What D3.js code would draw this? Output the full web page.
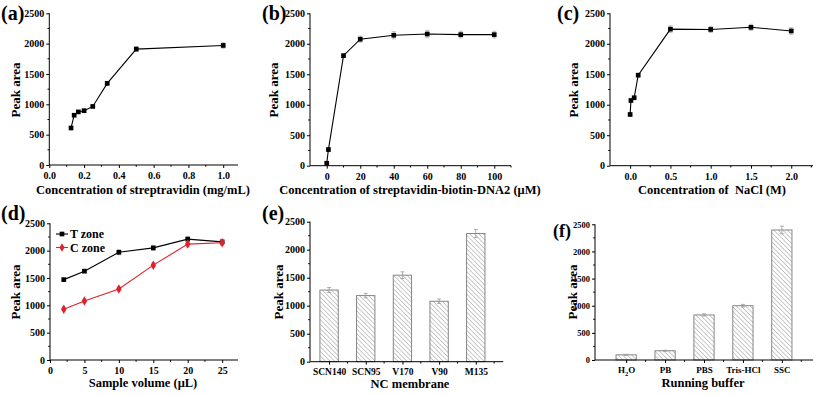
<!DOCTYPE html>
<html><head><meta charset="utf-8">
<script src="https://cdn.jsdelivr.net/npm/d3@7"></script>
<style>
body{margin:0;background:#fff;}
text{font-family:"Liberation Serif","Times New Roman",serif;font-weight:bold;fill:#000;}
</style></head>
<body><svg id="c" width="817" height="395"></svg>
<script>
// ---------- data ----------
const yTicks = [0, 500, 1000, 1500, 2000, 2500];

const aX = [0.125, 0.143, 0.167, 0.2, 0.25, 0.333, 0.5, 1.0];
const aY = [610, 820, 875, 895, 965, 1345, 1910, 1970];
const aErr = [20, 20, 20, 20, 20, 30, 40, 45];
const aTicks = [0.0, 0.2, 0.4, 0.6, 0.8, 1.0];

const bX = [0, 1, 10, 20, 40, 60, 80, 100];
const bY = [40, 265, 1805, 2075, 2140, 2160, 2150, 2150];
const bErr = [20, 20, 30, 50, 60, 60, 55, 55];
const bTicks = [0, 20, 40, 60, 80, 100];

const cX = [0, 0.01, 0.05, 0.1, 0.5, 1.0, 1.5, 2.0];
const cY = [840, 1070, 1115, 1485, 2240, 2235, 2270, 2210];
const cErr = [20, 20, 20, 25, 55, 50, 50, 55];
const cTicks = [0.0, 0.5, 1.0, 1.5, 2.0];

const dX = [2, 5, 10, 15, 20, 25];
const dT = [1470, 1625, 1970, 2050, 2210, 2160];
const dTErr = [25, 30, 45, 45, 50, 45];
const dC = [930, 1080, 1300, 1735, 2120, 2145];
const dCErr = [30, 30, 35, 40, 50, 45];
const dTicks = [0, 5, 10, 15, 20, 25];
const dSeries = ["T zone", "C zone"];

const eCats = ["SCN140", "SCN95", "V170", "V90", "M135"];
const eVals = [1280, 1180, 1545, 1080, 2290];
const eErr = [45, 40, 60, 40, 70];

const fCats = ["H2O", "PB", "PBS", "Tris-HCl", "SSC"];
const fVals = [95, 170, 830, 1000, 2395];
const fErr = [10, 10, 20, 25, 70];

// ---------- drawing ----------
const svg = d3.select("#c");
const defs = svg.append("defs");
const pat = defs.append("pattern").attr("id", "hatch").attr("patternUnits", "userSpaceOnUse")
  .attr("width", 3.2).attr("height", 3.2).attr("patternTransform", "rotate(-45)");
pat.append("rect").attr("width", 3.2).attr("height", 3.2).attr("fill", "#fff");
pat.append("line").attr("x1", 0).attr("y1", 0).attr("x2", 0).attr("y2", 3.2)
  .attr("stroke", "#8a8a8a").attr("stroke-width", 0.9);

function yAxis(g, y, x0, fs) {
  const ax = d3.axisLeft(y).tickValues(yTicks).tickSize(3).tickPadding(2).tickFormat(d3.format("d"));
  const gg = g.append("g").attr("transform", `translate(${x0},0)`).call(ax);
  gg.selectAll("text").style("font-size", fs + "px");
  const minor = yTicks.slice(0, -1).map(v => v + 250);
  gg.selectAll(".mn").data(minor).enter().append("line")
    .attr("x1", -1.8).attr("x2", 0).attr("y1", d => y(d)).attr("y2", d => y(d)).attr("stroke", "#000");
  gg.select(".domain").attr("d", `M0,${y(0)}V${y(2500)}`);
  return gg;
}
function xAxis(g, x, y0, ticks, fmt, minorStep, fs) {
  const ax = d3.axisBottom(x).tickValues(ticks).tickSize(3).tickPadding(4).tickFormat(fmt);
  const gg = g.append("g").attr("transform", `translate(0,${y0})`).call(ax);
  gg.selectAll("text").style("font-size", fs + "px");
  const [d0, d1] = x.domain();
  gg.select(".domain").attr("d", `M${x(d0)},0H${x(d1)}`);
  if (minorStep) {
    const mn = [];
    for (let i = 0; i < ticks.length; i++) {
      const v = ticks[i] + minorStep;
      if (v <= d1 && !ticks.includes(+v.toFixed(6))) mn.push(v);
    }
    gg.selectAll(".mn").data(mn).enter().append("line")
      .attr("x1", d => x(d)).attr("x2", d => x(d)).attr("y1", 0).attr("y2", 1.8).attr("stroke", "#000");
  }
  return gg;
}
function titles(g, label, lx, ly, lfs, xt, xtx, xty, ytx, yty) {
  g.append("text").attr("x", lx).attr("y", ly).style("font-size", lfs + "px").text(label);
  g.append("text").attr("x", xtx).attr("y", xty).attr("text-anchor", "middle").style("font-size", "12.5px")
    .attr("xml:space", "preserve").style("white-space", "pre").text(xt);
  g.append("text").attr("transform", `translate(${ytx},${yty}) rotate(-90)`).attr("text-anchor", "middle")
    .style("font-size", "13px").text("Peak area");
}
function errbars(g, xs, ys, es, x, y, color) {
  const grp = g.append("g").attr("stroke", color).attr("stroke-width", 0.8);
  xs.forEach((xv, i) => {
    const px = x(xv);
    grp.append("line").attr("x1", px).attr("x2", px).attr("y1", y(ys[i] - es[i])).attr("y2", y(ys[i] + es[i]));
    grp.append("line").attr("x1", px - 2).attr("x2", px + 2).attr("y1", y(ys[i] - es[i])).attr("y2", y(ys[i] - es[i]));
    grp.append("line").attr("x1", px - 2).attr("x2", px + 2).attr("y1", y(ys[i] + es[i])).attr("y2", y(ys[i] + es[i]));
  });
}
function lineSeries(g, xs, ys, x, y, color, shape) {
  const line = d3.line().x((d, i) => x(xs[i])).y(d => y(d));
  g.append("path").datum(ys).attr("d", line).attr("fill", "none").attr("stroke", color).attr("stroke-width", 1.1);
  const sym = d3.symbol().type(shape).size(shape === d3.symbolSquare ? 22 : 26);
  g.selectAll(null).data(ys).enter().append("path")
    .attr("transform", (d, i) => `translate(${x(xs[i])},${y(d)})`).attr("d", sym).attr("fill", color);
}
function linePanel(cfg) {
  const g = svg.append("g");
  const x = d3.scaleLinear().domain(cfg.xd).range([cfg.l, cfg.r]);
  const y = d3.scaleLinear().domain([0, 2500]).range([cfg.b, cfg.t]);
  yAxis(g, y, cfg.l, 10);
  xAxis(g, x, cfg.b, cfg.ticks, cfg.fmt, cfg.minor, 10);
  cfg.series.forEach(s => {
    errbars(g, cfg.xs, s.ys, s.err, x, y, "#b0b0b0");
    lineSeries(g, cfg.xs, s.ys, x, y, s.color, s.shape);
  });
  return {g, x, y};
}
function barPanel(cfg) {
  const g = svg.append("g");
  const x = d3.scaleLinear().domain(cfg.xd).range([cfg.l, cfg.r]);
  const y = d3.scaleLinear().domain([0, 2500]).range([cfg.b, cfg.t]);
  const idx = cfg.cats.map((c, i) => i);
  g.selectAll(null).data(cfg.vals).enter().append("rect")
    .attr("x", (d, i) => x(i - cfg.bw / 2)).attr("width", x(cfg.bw) - x(0))
    .attr("y", d => y(d)).attr("height", d => y(0) - y(d))
    .attr("fill", "url(#hatch)").attr("stroke", "#7a7a7a").attr("stroke-width", 0.9);
  errbars(g, idx, cfg.vals, cfg.err, x, y, "#9a9a9a");
  yAxis(g, y, cfg.l, cfg.yfs);
  const ax = xAxis(g, x, cfg.b, idx, i => cfg.cats[i], 0.5, cfg.xfs);
  return {g, x, y, ax};
}

// (a)
const pa = linePanel({l: 49.3, r: 238, t: 13.3, b: 165, xd: [0, 1.085], ticks: aTicks, fmt: d3.format(".1f"), minor: 0.1,
  xs: aX, series: [{ys: aY, err: aErr, color: "#000", shape: d3.symbolSquare}]});
titles(pa.g, "(a)", 1, 20, 20, "Concentration of streptravidin (mg/mL)", 143, 194, 20, 90);

// (b)
const pb = linePanel({l: 310, r: 511, t: 13.3, b: 165.7, xd: [-10, 110], ticks: bTicks, fmt: d3.format("d"), minor: 10,
  xs: bX, series: [{ys: bY, err: bErr, color: "#000", shape: d3.symbolSquare}]});
titles(pb.g, "(b)", 262, 20, 20, "Concentration of streptavidin-biotin-DNA2 (\u03bcM)", 410, 194, 278, 90);

// (c)
const pc = linePanel({l: 610, r: 813, t: 13.3, b: 165.7, xd: [-0.25, 2.27], ticks: cTicks, fmt: d3.format(".1f"), minor: 0.25,
  xs: cX, series: [{ys: cY, err: cErr, color: "#000", shape: d3.symbolSquare}]});
titles(pc.g, "(c)", 557, 20, 20, "Concentration of  NaCl (M)", 712, 194, 578, 90);

// (d)
const pd = linePanel({l: 50, r: 238, t: 223.3, b: 360, xd: [0, 27.3], ticks: dTicks, fmt: d3.format("d"), minor: 2.5,
  xs: dX, series: [
    {ys: dT, err: dTErr, color: "#000", shape: d3.symbolSquare},
    {ys: dC, err: dCErr, color: "#e0202a", shape: d3.symbolDiamond}]});
titles(pd.g, "(d)", 1, 220, 20, "Sample volume (\u03bcL)", 143, 387, 20, 292);
const leg = pd.g.append("g");
const legColors = ["#000", "#e0202a"];
const legShapes = [d3.symbolSquare, d3.symbolDiamond];
dSeries.forEach((s, i) => {
  const ly = 234 + i * 13.5;
  leg.append("line").attr("x1", 56).attr("x2", 68).attr("y1", ly).attr("y2", ly).attr("stroke", legColors[i]).attr("stroke-width", 1.1);
  leg.append("path").attr("transform", `translate(62,${ly})`).attr("d", d3.symbol().type(legShapes[i]).size(22)).attr("fill", legColors[i]);
  leg.append("text").attr("x", 70).attr("y", ly + 4).style("font-size", "12px").text(s);
});

// (e)
const pe = barPanel({l: 310, r: 503.3, t: 221.7, b: 361.7, xd: [-0.52, 4.75], bw: 0.5, cats: eCats, vals: eVals, err: eErr, yfs: 10, xfs: 9.5});
titles(pe.g, "(e)", 262, 220, 20, "NC membrane", 410, 388, 283, 292);

// (f)
const pf = barPanel({l: 595, r: 813, t: 224.3, b: 360, xd: [-0.8, 4.8], bw: 0.52, cats: fCats, vals: fVals, err: fErr, yfs: 8.5, xfs: 9});
titles(pf.g, "(f)", 553, 237, 18, "Running buffer", 703, 387, 577, 292);
pf.ax.selectAll(".tick text").filter(d => fCats[d] === "H2O").each(function() {
  const t = d3.select(this);
  t.text(null);
  t.append("tspan").text("H");
  t.append("tspan").attr("dy", 3).style("font-size", "6.5px").text("2");
  t.append("tspan").attr("dy", -3).text("O");
});
</script></body></html>
